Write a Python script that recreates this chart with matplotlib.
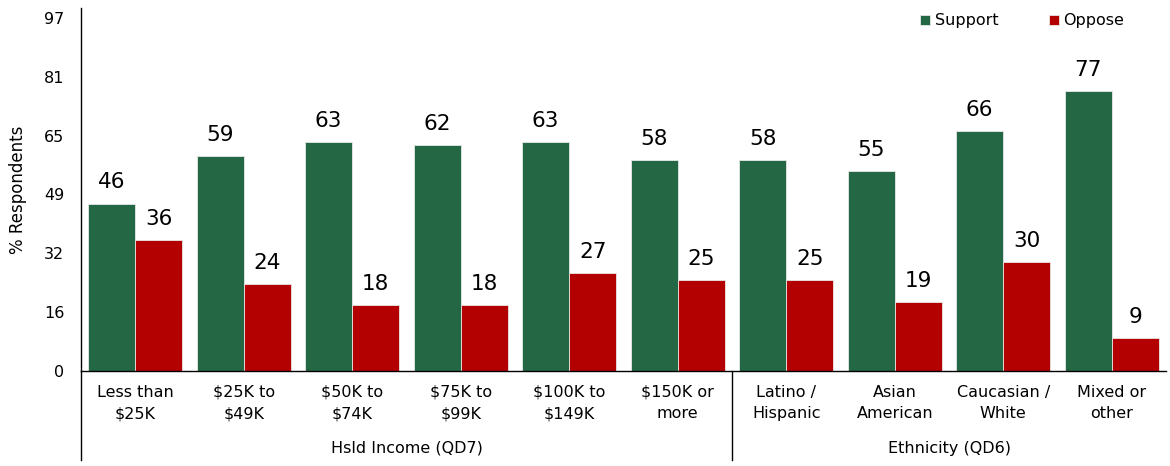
import matplotlib.pyplot as plt
import numpy as np
from matplotlib.lines import Line2D

categories = ['Less than\n$25K', '$25K to\n$49K', '$50K to\n$74K', '$75K to\n$99K',
              '$100K to\n$149K', '$150K or\nmore', 'Latino /\nHispanic', 'Asian\nAmerican',
              'Caucasian /\nWhite', 'Mixed or\nother']
support = [46, 59, 63, 62, 63, 58, 58, 55, 66, 77]
oppose = [36, 24, 18, 18, 27, 25, 25, 19, 30, 9]
groups = ['Hsld Income (QD7)', 'Ethnicity (QD6)']
group_sizes = [6, 4]

green = '#236745'
red = '#b30000'

fig = plt.figure(figsize=(11.7, 4.66), dpi=100)
ax = fig.add_axes([81 / 1170, 1 - 371 / 466, 1085 / 1170, 363 / 466])

x = np.arange(len(categories))
w = 0.435
b1 = ax.bar(x - w / 2, support, w, color=green, edgecolor='#e8e8e8', linewidth=0.6, label='Support')
b2 = ax.bar(x + w / 2, oppose, w, color=red, edgecolor='#e8e8e8', linewidth=0.6, label='Oppose')

for bars, vals in [(b1, support), (b2, oppose)]:
    for r, v in zip(bars, vals):
        ax.annotate(str(v), (r.get_x() + r.get_width() / 2, v), xytext=(0, 8),
                    textcoords='offset points', ha='center', va='bottom', fontsize=15.5)

ax.set_xlim(-0.5, len(categories) - 0.5)
ax.set_ylim(0, 99.7)
ticks = np.linspace(0, 97, 7)
ax.set_yticks(ticks)
ax.set_yticklabels([str(int(t + 0.5)) for t in ticks], fontsize=11.5)
ax.tick_params(axis='y', length=0, pad=12)
ax.set_xticks(x)
ax.set_xticklabels(categories, fontsize=11.5, linespacing=1.55)
ax.tick_params(axis='x', length=0, pad=10)
ax.set_ylabel('% Respondents', fontsize=12, labelpad=12)

for s in ['top', 'right']:
    ax.spines[s].set_visible(False)
ax.spines['left'].set_linewidth(1)
ax.spines['bottom'].set_linewidth(1)

# extend the y axis line down through the label area, plus the group divider
ybot = -89 / 363
ax.add_line(Line2D([-0.5, -0.5], [0, ybot * 99.7], color='black', lw=1, clip_on=False))
ax.add_line(Line2D([5.5, 5.5], [0, ybot * 99.7], color='black', lw=1, clip_on=False))

start = 0
for g, n in zip(groups, group_sizes):
    cx = start + (n - 1) / 2
    ax.text(cx, -77 / 363 * 99.7, g, ha='center', va='center', fontsize=11.5)
    start += n

ax.legend(loc='upper right', bbox_to_anchor=(0.975, 1.025), ncol=2, frameon=False, fontsize=11.5,
          handlelength=0.6, handleheight=0.6, handletextpad=0.3, columnspacing=3.2)

fig.savefig('out.png', dpi=100)
